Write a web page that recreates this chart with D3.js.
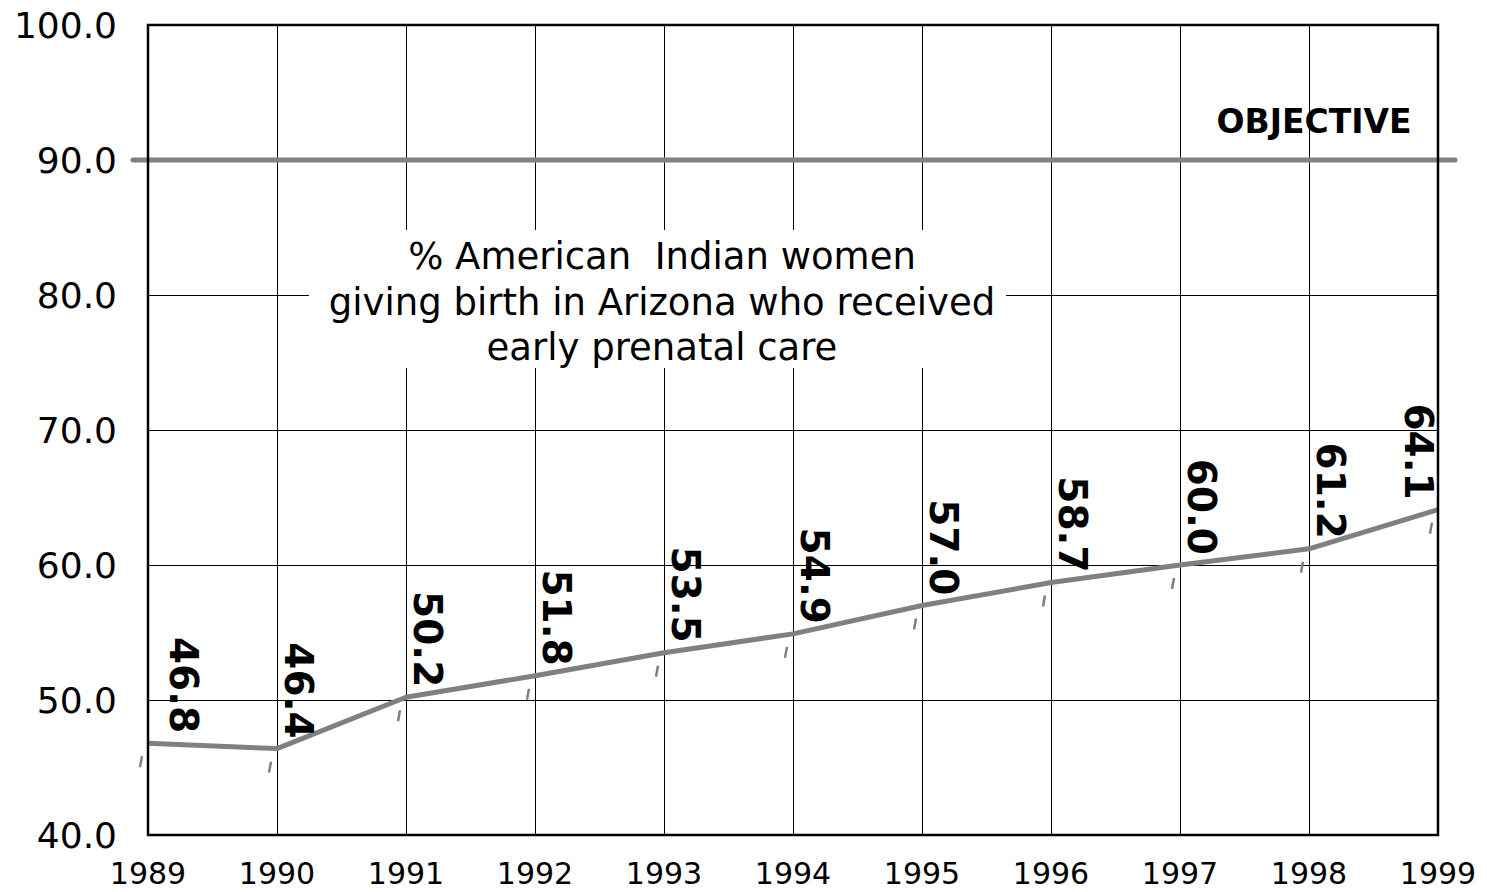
<!DOCTYPE html>
<html>
<head>
<meta charset="utf-8">
<script src="https://cdn.jsdelivr.net/npm/d3@7"></script>
<style>
  body { margin: 0; background: #fff; }
  text { font-family: "DejaVu Sans", Verdana, sans-serif; }
</style>
</head>
<body>
<svg id="chart" width="1487" height="892"></svg>
<script>
// data
const years = [1989, 1990, 1991, 1992, 1993, 1994, 1995, 1996, 1997, 1998, 1999];
const values = [46.8, 46.4, 50.2, 51.8, 53.5, 54.9, 57.0, 58.7, 60.0, 61.2, 64.1];
const yTicks = [40, 50, 60, 70, 80, 90, 100];
const objective = 90;
const titleLines = ["% American  Indian women", "giving birth in Arizona who received", "early prenatal care"];
const objectiveLabel = "OBJECTIVE";

const svg = d3.select("#chart");

const x = d3.scaleLinear().domain([1989, 1999]).range([148, 1438]);
const y = d3.scaleLinear().domain([40, 100]).range([835, 25]);

// grid lines
svg.append("g")
    .attr("shape-rendering", "crispEdges")
    .selectAll("line")
    .data(years)
    .enter().append("line")
    .attr("x1", d => x(d)).attr("x2", d => x(d))
    .attr("y1", y(100)).attr("y2", y(40))
    .attr("stroke", "#000").attr("stroke-width", 1);

svg.append("g")
    .attr("shape-rendering", "crispEdges")
    .selectAll("line")
    .data(yTicks)
    .enter().append("line")
    .attr("x1", x(1989)).attr("x2", x(1999))
    .attr("y1", d => y(d)).attr("y2", d => y(d))
    .attr("stroke", "#000").attr("stroke-width", 1);

// title box (white, hides the grid behind the text)
svg.append("rect")
    .attr("x", 309).attr("y", 230)
    .attr("width", 697).attr("height", 138)
    .attr("fill", "#fff");

svg.append("text")
    .attr("x", 662)
    .attr("text-anchor", "middle")
    .style("font-size", "37px")
    .style("white-space", "pre")
    .selectAll("tspan")
    .data(titleLines)
    .enter().append("tspan")
    .attr("x", 662)
    .attr("y", (d, i) => 269 + i * 45.5)
    .text(d => d);

// objective line
svg.append("line")
    .attr("x1", x(1989) - 15).attr("x2", x(1999) + 17)
    .attr("y1", y(objective)).attr("y2", y(objective))
    .attr("stroke", "#808080").attr("stroke-width", 5)
    .attr("stroke-linecap", "round");

svg.append("text")
    .attr("x", 1314).attr("y", 133)
    .attr("text-anchor", "middle")
    .style("font-size", "33px").style("font-weight", "bold")
    .text(objectiveLabel);

// data line
let line = d3.line()
    .x((d, i) => x(years[i]))
    .y(d => y(d));

svg.append("path")
    .datum(values)
    .attr("d", line)
    .attr("fill", "none")
    .attr("stroke", "#808080")
    .attr("stroke-width", 5)
    .attr("stroke-linejoin", "round");

// little slash marks under each point
svg.append("g")
    .selectAll("line")
    .data(values)
    .enter().append("line")
    .attr("x1", (d, i) => x(years[i]) - 8)
    .attr("y1", d => y(d) + 24)
    .attr("x2", (d, i) => x(years[i]) - 6)
    .attr("y2", d => y(d) + 13)
    .attr("stroke", "#808080").attr("stroke-width", 2.5);

// rotated value labels
function labelDx(i) {
    if (i === 0) return 22;
    if (i === values.length - 1) return -33;
    return 8;
}
svg.append("g")
    .selectAll("text")
    .data(values)
    .enter().append("text")
    .attr("transform", (d, i) => `translate(${x(years[i]) + labelDx(i)},${y(d) - 10}) rotate(90)`)
    .attr("text-anchor", "end")
    .style("font-size", "39px").style("font-weight", "bold")
    .text(d => d.toFixed(1));

// frame
svg.append("rect")
    .attr("x", x(1989)).attr("y", y(100))
    .attr("width", x(1999) - x(1989)).attr("height", y(40) - y(100))
    .attr("fill", "none").attr("stroke", "#000").attr("stroke-width", 2.5);

// y axis labels
svg.append("g")
    .selectAll("text")
    .data(yTicks)
    .enter().append("text")
    .attr("x", 117)
    .attr("y", d => y(d))
    .attr("dy", "0.36em")
    .attr("text-anchor", "end")
    .style("font-size", "36px")
    .text(d => d.toFixed(1));

// x axis labels
svg.append("g")
    .selectAll("text")
    .data(years)
    .enter().append("text")
    .attr("x", d => x(d))
    .attr("y", 884)
    .attr("text-anchor", "middle")
    .style("font-size", "30px")
    .text(d => d);
</script>
</body>
</html>
